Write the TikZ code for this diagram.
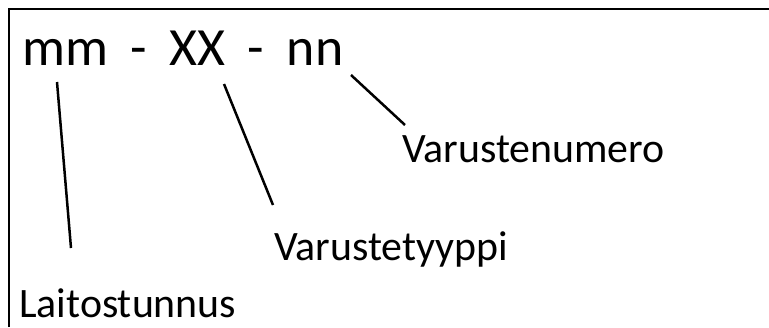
\documentclass[tikz,border=0pt]{standalone}
\usepackage{fontspec}
\setmainfont{Carlito}
\newcommand{\gapsp}{\hspace{22.5bp}}
\begin{document}
\begin{tikzpicture}[x=1bp,y=-1bp,
  lbl/.style={inner sep=0pt,anchor=base west,font=\fontsize{42}{45}\selectfont},
  big/.style={inner sep=0pt,anchor=base west,font=\fontsize{54}{58}\selectfont},
  conn/.style={line width=2.5bp},
  frame/.style={line width=1.3bp}]
\useasboundingbox (0,0) rectangle (769,327);
\draw[frame] (9,327) -- (9,9) -- (769,9);
\node[big] (code) at (22,65) {mm\gapsp-\gapsp XX\gapsp-\gapsp nn};
\node[lbl] (lait) at (19,317) {Laitostunnus};
\node[lbl] (tyyp) at (274,260) {Varustetyyppi};
\node[lbl] (num) at (402,162) {Varustenumero};
\coordinate (a1) at (57,82);
\coordinate (a2) at (71,248);
\coordinate (b1) at (224,84);
\coordinate (b2) at (273,205);
\coordinate (c1) at (351,75);
\coordinate (c2) at (405,125);
\draw[conn] (a1) -- (a2);
\draw[conn] (b1) -- (b2);
\draw[conn] (c1) -- (c2);
\end{tikzpicture}
\end{document}
